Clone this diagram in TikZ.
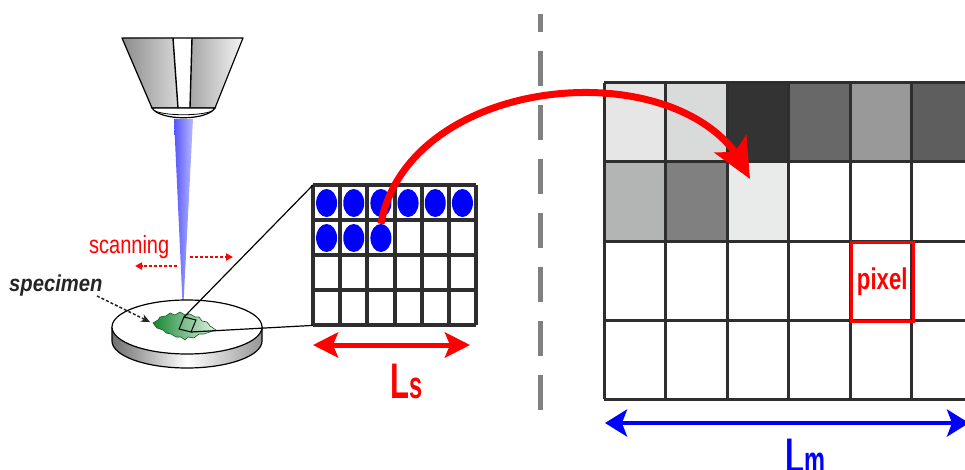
\documentclass[tikz,border=0pt]{standalone}
\usepackage{fontspec}
\setmainfont{Liberation Sans}
\usetikzlibrary{arrows.meta,bending,shapes.geometric,calc}

\definecolor{gridline}{HTML}{2E2E2E}
\definecolor{divgray}{HTML}{808080}
\definecolor{specgreen}{RGB}{25,150,55}
\definecolor{beamL}{RGB}{85,85,255}
\definecolor{beamR}{RGB}{185,185,255}
\definecolor{c11}{HTML}{E6E6E6}
\definecolor{c12}{HTML}{D9DBDB}
\definecolor{c13}{HTML}{333333}
\definecolor{c14}{HTML}{686868}
\definecolor{c15}{HTML}{999999}
\definecolor{c16}{HTML}{5E5E5E}
\definecolor{c21}{HTML}{B3B4B4}
\definecolor{c22}{HTML}{808080}
\definecolor{c23}{HTML}{E9EBEA}
\definecolor{txtdark}{HTML}{262626}
\definecolor{colL}{RGB}{140,140,140}
\definecolor{colM}{RGB}{215,215,215}
\definecolor{colN}{RGB}{165,165,165}
\definecolor{colR}{RGB}{245,245,245}
\definecolor{discL}{RGB}{110,110,110}
\definecolor{discR}{RGB}{150,150,150}

\tikzset{
  divider/.style={divgray, line width=5, dash pattern=on 35 off 19, dash phase=17},
  sline/.style={gridline, line width=4, line cap=square},
  mline/.style={gridline, line width=3, line cap=square},
  dot/.style={ellipse, fill=blue, draw=none, minimum width=21, minimum height=28, inner sep=0},
  gridbox/.style={draw=none, anchor=north west, inner sep=0},
  bigcurve/.style={red, line width=7, -{Stealth[length=40, width=36, inset=9, flex]}},
  lsarrow/.style={red, line width=5, {Stealth[length=25, width=25, inset=5]}-{Stealth[length=25, width=25, inset=5]}},
  lmarrow/.style={blue, line width=4, {Stealth[length=22, width=27, inset=5]}-{Stealth[length=22, width=27, inset=5]}},
  scanarrow/.style={red, line width=2, dash pattern=on 3 off 2, -{Triangle[length=7, width=7]}},
  specarrow/.style={txtdark, line width=1.5, dash pattern=on 3 off 2, -{Stealth[length=9, width=8]}},
  thinlink/.style={black, line width=1.2},
  biglabel/.style={anchor=base west, inner sep=0, xscale=0.62}
}

\begin{document}
\begin{tikzpicture}[x=1pt, y=-1pt]
\useasboundingbox (0,0) rectangle (965,470);

% ---------- dashed divider ----------
\draw[divider] (540,14) -- (540,412);

% ---------- electron column ----------
\shade[left color=colL, right color=colM]
  (122,38) -- (173,38) -- (178,108) -- (152,108) -- cycle;
\shade[left color=colN, right color=colR]
  (192,38) -- (243,38) -- (215,108) -- (190,108) -- cycle;
\fill[white] (173,38) -- (192,38) -- (190,108) -- (178,108) -- cycle;
\draw[black, line width=1.2, line join=round] (122,38) -- (243,38) -- (215,108) -- (152,108) -- cycle;
\draw[black, line width=1.4] (173,38) -- (178,108) (192,38) -- (190,108);
% rim below the column
\draw[black, line width=1.2, fill=white] (152,108) .. controls (160,121) and (207,121) .. (215,108) -- cycle;
\draw[black, line width=0.8] (155,111) .. controls (166,116) and (201,116) .. (212,111);

% electron beam
\shade[left color=beamL, right color=beamR] (174,119) -- (193,119) -- (183,313) -- cycle;

% ---------- specimen holder ----------
\shade[left color=discL, right color=discR, middle color=white]
  (112,327) arc[start angle=180, end angle=0, x radius=75, y radius=27]
  -- (262,341) arc[start angle=0, end angle=180, x radius=75, y radius=27] -- cycle;
\draw[black, line width=1.2]
  (112,327) -- (112,341) arc[start angle=180, end angle=0, x radius=75, y radius=27] -- (262,327);
\draw[black, line width=1.2, fill=white] (187,327) ellipse[x radius=75, y radius=27];

% specimen
\shade[left color=specgreen!90!black, middle color=specgreen, right color=specgreen!12, draw=specgreen!60!black, line width=0.6]
  (153,323) -- (158,320) -- (160,317) -- (166,316) -- (170,313) -- (175,315) -- (180,312)
  -- (185,315) -- (190,314) -- (195,317) -- (199,317) -- (202,321) -- (207,322) -- (210,326)
  -- (216,330) -- (210,332) -- (204,334) -- (199,334) -- (194,338) -- (188,337) -- (185,340)
  -- (181,337) -- (176,337) -- (171,334) -- (166,333) -- (163,330) -- (157,328) -- cycle;

% scanned area
\coordinate (sqA) at (179,329);
\coordinate (sqB) at (184,317);
\coordinate (sqC) at (196,320);
\coordinate (sqD) at (191,332);
\draw[black, line width=1] (sqA) -- (sqB) -- (sqC) -- (sqD) -- cycle;

% ---------- scanned grid ----------
\node[gridbox, minimum width=163, minimum height=140] (sgrid) at (313,185) {};
\fill[white] (sgrid.north west) rectangle (sgrid.south east);
\foreach \i in {0,...,6} \draw[sline] ({313+163/6*\i},185) -- ({313+163/6*\i},325);
\foreach \j in {0,...,4} \draw[sline] (313,{185+35*\j}) -- (476,{185+35*\j});
\foreach \c in {1,...,6} \node[dot] (d1\c) at ({313+163/6*(\c-0.5)},203) {};
\foreach \c in {1,...,3} \node[dot] (d2\c) at ({313+163/6*(\c-0.5)},238) {};

% links from scanned area to the grid
\draw[thinlink] (sqB) -- (sgrid.north west);
\draw[thinlink] (sqD) -- (sgrid.south west);

% ---------- image grid ----------
\node[gridbox, minimum width=369, minimum height=316] (mgrid) at (604,83) {};
\foreach \c/\r/\col in {0/0/c11,1/0/c12,2/0/c13,3/0/c14,4/0/c15,5/0/c16,0/1/c21,1/1/c22,2/1/c23}
  \fill[\col] ({604+61.5*\c},{83+79*\r}) rectangle ++(61.5,79);
\foreach \i in {0,...,6} \draw[mline] ({604+61.5*\i},83) -- ({604+61.5*\i},399);
\foreach \j in {0,...,4} \draw[mline] (604,{83+79*\j}) -- (973,{83+79*\j});
\node[draw=red, line width=3, minimum width=61.5, minimum height=79, anchor=north west, inner sep=0,
      text=red, font=\fontsize{30}{30}\selectfont\bfseries] (pix) at ({604+61.5*4},{83+79*2})
      {\scalebox{0.74}[1]{pixel}};

% ---------- transfer arrow ----------
\coordinate (mtip) at (750,179);
\draw[bigcurve] (d23.north) .. controls (410,68) and (700,48) .. (mtip);

% ---------- scale arrows and labels ----------
\coordinate (lsL) at (313,345);
\coordinate (lsR) at (470,345);
\draw[lsarrow] (lsL) -- (lsR);
\node[biglabel, text=red] (ls) at (390,398)
  {\fontsize{50}{50}\selectfont\bfseries L\fontsize{38}{38}\selectfont s};

\coordinate (lmL) at (605,423);
\coordinate (lmR) at (969,423);
\draw[lmarrow] (lmL) -- (lmR);
\node[biglabel, text=blue] (lm) at (785,473)
  {\fontsize{50}{50}\selectfont\bfseries L\fontsize{38}{38}\selectfont m};

% ---------- scanning / specimen labels ----------
\node[anchor=base west, inner sep=0, xscale=0.8, text=red, font=\fontsize{25}{25}\selectfont] (scan) at (89,253) {scanning};
\coordinate (scR1) at (190,257);
\coordinate (scR2) at (233,257);
\coordinate (scL1) at (177,266);
\coordinate (scL2) at (135,266);
\draw[scanarrow] (scR1) -- (scR2);
\draw[scanarrow] (scL1) -- (scL2);

\node[anchor=base west, inner sep=0, xscale=0.88, text=txtdark, font=\fontsize{23}{23}\selectfont\bfseries\itshape] (spec) at (9,291) {specimen};
\coordinate (spS) at (97,296);
\coordinate (spE) at (150,322);
\draw[specarrow] (spS) -- (spE);

\end{tikzpicture}
\end{document}
